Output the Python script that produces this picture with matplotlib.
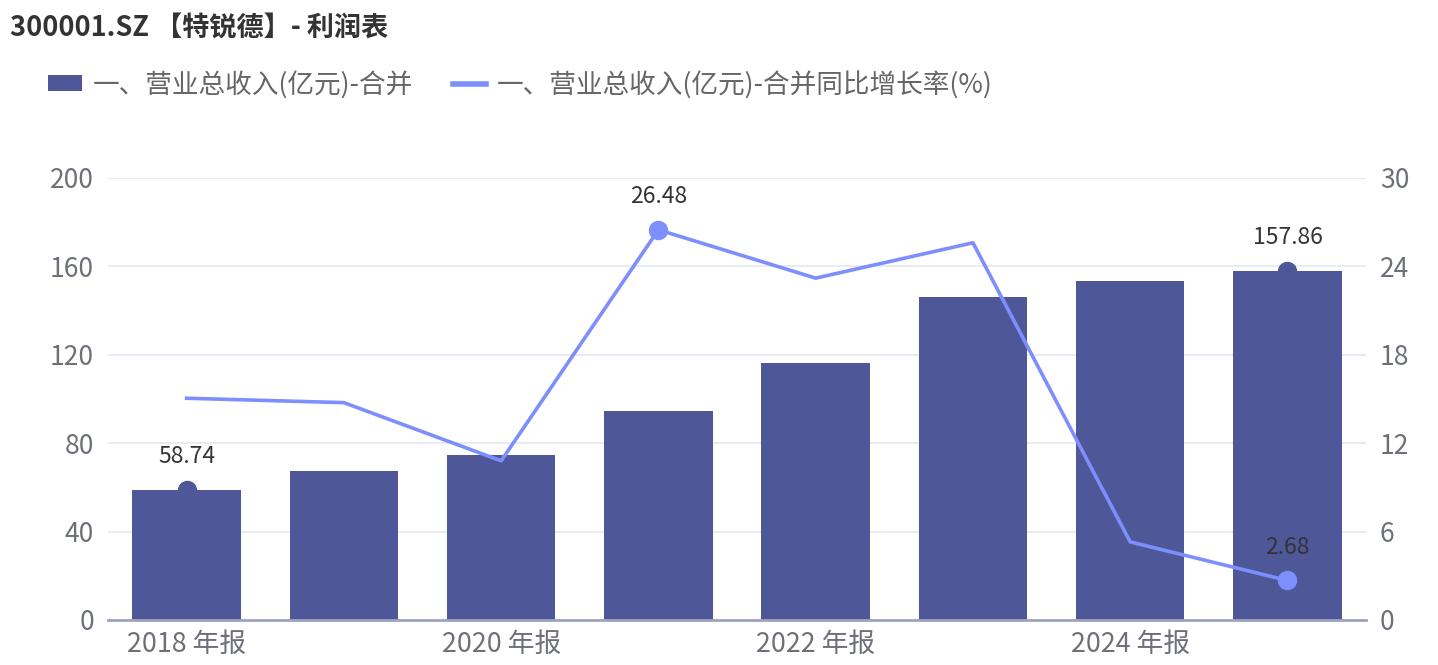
import matplotlib
matplotlib.use("Agg")
import matplotlib.pyplot as plt
from matplotlib.lines import Line2D
from matplotlib.patches import Patch

plt.rcParams['font.family'] = ['Noto Sans CJK SC', 'DejaVu Sans']

years = ["2018", "2019", "2020", "2021", "2022", "2023", "2024", "2025"]
tick_labels = ["2018 年报", "", "2020 年报", "", "2022 年报", "", "2024 年报", ""]
revenue = [58.74, 67.4, 74.6, 94.5, 116.3, 146.1, 153.4, 157.86]
growth = [15.05, 14.75, 10.8, 26.48, 23.2, 25.6, 5.3, 2.68]
title = "300001.SZ 【特锐德】- 利润表"
bar_name = "一、营业总收入(亿元)-合并"
line_name = "一、营业总收入(亿元)-合并同比增长率(%)"
left_ticks = [0, 40, 80, 120, 160, 200]
right_ticks = [0, 6, 12, 18, 24, 30]

bar_color = "#4e5898"
line_color = "#7d8ffc"
tick_color = "#6e7079"
label_color = "#333333"

fig = plt.figure(figsize=(14.38, 6.65), dpi=100)
ax = fig.add_axes([0.0751, 0.0677, 0.8749, 0.6647])
ax2 = ax.twinx()

x = list(range(len(years)))
ax.bar(x, revenue, width=0.69, color=bar_color, zorder=2)
ax.set_xlim(-0.5, len(years) - 0.5)
ax.set_ylim(0, 200)
ax.set_yticks(left_ticks)
ax.set_xticks(x)
ax.set_xticklabels(tick_labels)
ax.grid(axis='y', color="#e6e9f2", linewidth=1.3, zorder=0)
ax.set_axisbelow(True)
for s in ["top", "right", "left"]:
    ax.spines[s].set_visible(False)
ax.spines["bottom"].set_color("#9ea4bf")
ax.spines["bottom"].set_linewidth(2)
ax.tick_params(axis='x', length=0, pad=8, labelsize=19.3, labelcolor=tick_color)
ax.tick_params(axis='y', length=0, pad=10, labelsize=19, labelcolor=tick_color)

ax2.plot(x, growth, color=line_color, linewidth=2.6, zorder=3)
ax2.set_ylim(0, 30)
ax2.set_yticks(right_ticks)
for s in ["top", "right", "left", "bottom"]:
    ax2.spines[s].set_visible(False)
ax2.tick_params(axis='y', length=0, pad=10, labelsize=19, labelcolor=tick_color)

# markers / labels for min & max of each series
imin_b = revenue.index(min(revenue))
imax_b = revenue.index(max(revenue))
for i in (imin_b, imax_b):
    ax2.plot([i], [revenue[i] * 30 / 200], 'o', color=bar_color, markersize=13, zorder=4)
    ax2.annotate(f"{revenue[i]:.2f}", (i, revenue[i] * 30 / 200), xytext=(0, 24),
                 textcoords='offset points', ha='center', va='center',
                 fontsize=16.5, color=label_color, zorder=5)
imin_l = growth.index(min(growth))
imax_l = growth.index(max(growth))
for i in (imax_l, imin_l):
    ax2.plot([i], [growth[i]], 'o', color=line_color, markersize=13, zorder=4)
    ax2.annotate(f"{growth[i]:.2f}", (i, growth[i]), xytext=(0, 24),
                 textcoords='offset points', ha='center', va='center',
                 fontsize=16.5, color=label_color, zorder=5)

fig.text(0.007, 0.958, title, fontsize=19.5, fontweight='bold', color="#333333",
         ha='left', va='center')

handles = [Patch(facecolor=bar_color, edgecolor='none'),
           Line2D([0], [0], color=line_color, linewidth=4)]
fig.legend(handles, [bar_name, line_name], loc='center left',
           bbox_to_anchor=(0.017, 0.873), ncol=2, frameon=False,
           fontsize=19.2, labelcolor="#666666", handlelength=1.25, handleheight=0.55,
           handletextpad=0.4, columnspacing=1.5)

fig.savefig("out.png", dpi=100)
